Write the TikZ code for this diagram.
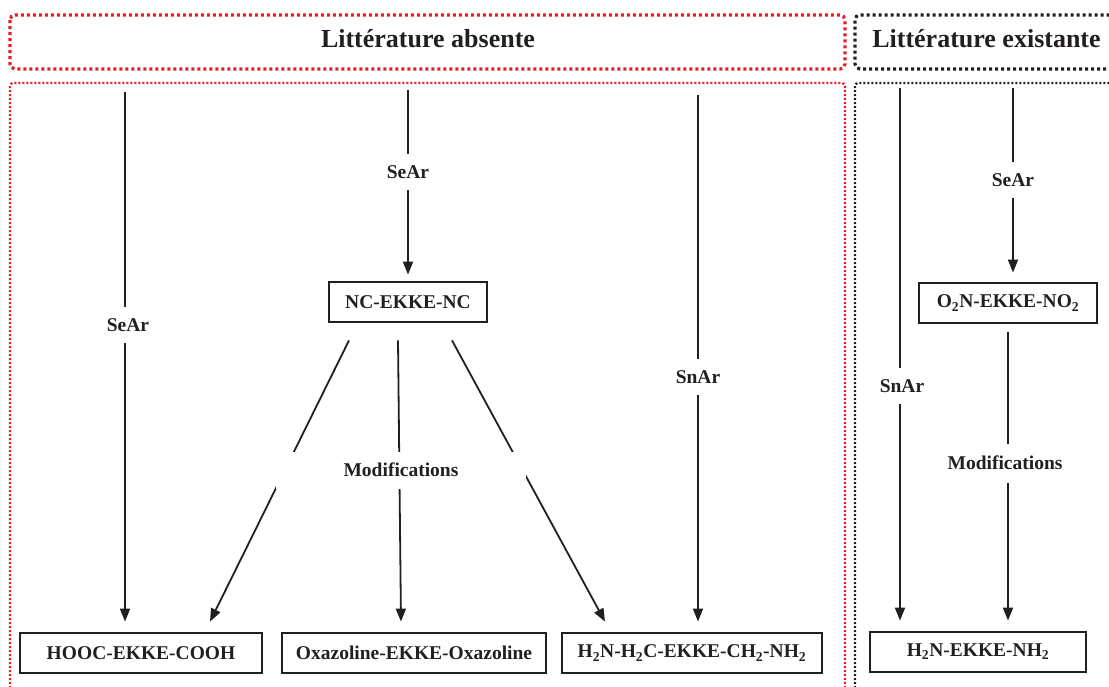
\documentclass[tikz,border=0pt]{standalone}
\usepackage{fontspec}
\setmainfont{Liberation Serif}
\usetikzlibrary{arrows.meta}
\definecolor{ink}{HTML}{231F20}
\definecolor{redd}{HTML}{ED1C24}
\newcommand{\lowtwo}{\textsubscript{2}}
\begin{document}
\begin{tikzpicture}[x=1pt,y=-1pt,
  txt/.style={font=\fontsize{19.5}{22}\selectfont\bfseries, text=ink},
  ttl/.style={font=\fontsize{26}{30}\selectfont\bfseries, text=ink, anchor=base},
  box/.style={txt, draw=ink, line width=2.8pt, minimum height=40pt, inner sep=0pt},
  arr/.style={draw=ink, line width=1.8pt, -{Triangle[length=13pt,width=10pt]}},
  lab/.style={txt, fill=white, inner xsep=3pt, inner ysep=0pt, minimum height=36pt},
  bigframe/.style={line width=3.2pt, dash pattern=on 3pt off 3pt, rounded corners=5pt},
  smallframe/.style={line width=2.2pt, dash pattern=on 2pt off 2pt, rounded corners=3pt}]
\useasboundingbox (0,0) rectangle (1109,686);
\clip (0,0) rectangle (1109,686);

% frames
\draw[bigframe, draw=redd] (10,15) rectangle (845,69);
\draw[bigframe, draw=ink] (1130,69) -- (855,69) -- (855,15) -- (1130,15);
\draw[smallframe, draw=redd] (10,700) -- (10,83) -- (845,83) -- (845,700);
\draw[smallframe, draw=ink] (855,700) -- (855,83) -- (1130,83);

% titles
\node[ttl] (t1) at (428,47) {Littérature absente};
\node[ttl] (t2) at (986.5,47) {Littérature existante};

% boxes
\node[box, minimum width=158pt] (nc) at (408,302) {NC-EKKE-NC};
\node[box, minimum width=178pt] (o2n) at (1008,303) {O\lowtwo N-EKKE-NO\lowtwo};
\node[box, minimum width=242pt] (A) at (141,653) {HOOC-EKKE-COOH};
\node[box, minimum width=264pt] (B) at (414,653) {Oxazoline-EKKE-Oxazoline};
\node[box, minimum width=260pt] (C) at (692,653) {H\lowtwo N-H\lowtwo C-EKKE-CH\lowtwo-NH\lowtwo};
\node[box, minimum width=216pt] (D) at (978,652) {H\lowtwo N-EKKE-NH\lowtwo};

% free starting points
\coordinate (s1) at (125,92);
\coordinate (s2) at (408,90);
\coordinate (s3) at (698,95);
\coordinate (s4) at (900,88);
\coordinate (s5) at (1013,88);
\coordinate (s6) at ([yshift=-8pt]o2n.south);

% arrows
\draw[arr, shorten >=10pt] (s1) -- (s1 |- A.north);
\draw[arr, shorten >=6pt] (s2) -- (nc.north);
\draw[arr, shorten >=10pt] (s3) -- (s3 |- C.north);
\draw[arr, shorten >=10pt] (s4) -- (s4 |- D.north);
\draw[arr, shorten >=9pt] (s5) -- (s5 |- o2n.north);
\draw[arr, shorten >=10pt] (s6) -- (s6 |- D.north);

\draw[arr] ([xshift=-59pt,yshift=-17pt]nc.south) -- ([xshift=69pt,yshift=10pt]A.north);
\draw[arr] ([xshift=-10pt,yshift=-17pt]nc.south) -- ([xshift=-13pt,yshift=10pt]B.north);
\draw[arr] ([xshift=44pt,yshift=-17pt]nc.south) -- ([xshift=-87pt,yshift=10pt]C.north);

% labels
\node[lab] (l1) at (128,325) {SeAr};
\node[lab] (l2) at (408,172) {SeAr};
\node[lab] (l3) at (698,377) {SnAr};
\node[lab] (l4) at (902,386) {SnAr};
\node[lab] (l5) at (1013,180) {SeAr};
\node[lab, minimum width=250pt, minimum height=37pt] (m1) at (401,470) {Modifications};
\node[lab, minimum height=39pt] (m2) at (1005,463) {Modifications};
\end{tikzpicture}
\end{document}
